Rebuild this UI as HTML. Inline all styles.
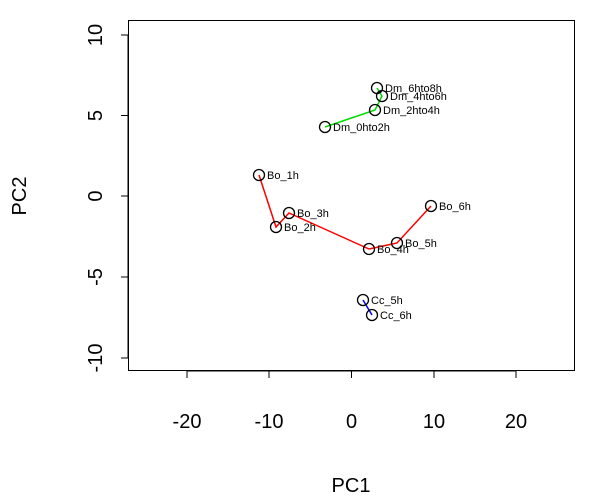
<html><body style="margin:0;background:#fff">
<svg width="608" height="498" xmlns="http://www.w3.org/2000/svg" font-family="Liberation Sans, sans-serif">
<rect x="128.5" y="20.5" width="446" height="350" fill="none" stroke="#000"/>
<g stroke="#000">
<line x1="187" y1="371" x2="516" y2="371"/>
<line x1="187" y1="371" x2="187" y2="378"/><line x1="269" y1="371" x2="269" y2="378"/><line x1="351.5" y1="371" x2="351.5" y2="378"/><line x1="434" y1="371" x2="434" y2="378"/><line x1="516" y1="371" x2="516" y2="378"/>
<line x1="128" y1="35" x2="128" y2="358"/>
<line x1="121" y1="35" x2="128" y2="35"/><line x1="121" y1="115.5" x2="128" y2="115.5"/><line x1="121" y1="196" x2="128" y2="196"/><line x1="121" y1="277" x2="128" y2="277"/><line x1="121" y1="358" x2="128" y2="358"/>
</g>
<g font-size="20" text-anchor="middle">
<text x="187" y="428">-20</text><text x="269" y="428">-10</text><text x="351.5" y="428">0</text><text x="434" y="428">10</text><text x="516" y="428">20</text>
<text x="351" y="492">PC1</text>
<g transform="rotate(-90)">
<text x="-35" y="102">10</text><text x="-115.5" y="102">5</text><text x="-196" y="102">0</text><text x="-277" y="102">-5</text><text x="-358" y="102">-10</text>
<text x="-196" y="26">PC2</text>
</g>
</g>
<polyline points="259,175 276,227 289,213 369,249 397,243 431,206" fill="none" stroke="#f00" stroke-width="1.5"/>
<polyline points="325,127 375,110 382,96 377,88" fill="none" stroke="#0d0" stroke-width="1.5"/>
<line x1="363" y1="300" x2="372" y2="315" stroke="#00f" stroke-width="1.5"/>
<g fill="none" stroke="#000" stroke-width="1.3">
<circle cx="259" cy="175" r="5.5"/><circle cx="276" cy="227" r="5.5"/><circle cx="289" cy="213" r="5.5"/><circle cx="369" cy="249" r="5.5"/><circle cx="397" cy="243" r="5.5"/><circle cx="431" cy="206" r="5.5"/>
<circle cx="325" cy="127" r="5.5"/><circle cx="375" cy="110" r="5.5"/><circle cx="382" cy="96" r="5.5"/><circle cx="377" cy="88" r="5.5"/>
<circle cx="363" cy="300" r="5.5"/><circle cx="372" cy="315" r="5.5"/>
</g>
<g font-size="11">
<text x="267" y="179">Bo_1h</text><text x="284" y="231">Bo_2h</text><text x="297" y="217">Bo_3h</text><text x="377" y="253">Bo_4h</text><text x="405" y="247">Bo_5h</text><text x="439" y="210">Bo_6h</text>
<text x="333" y="131">Dm_0hto2h</text><text x="383" y="114">Dm_2hto4h</text><text x="390" y="100">Dm_4hto6h</text><text x="385" y="92">Dm_6hto8h</text>
<text x="371" y="304">Cc_5h</text><text x="380" y="319">Cc_6h</text>
</g>
</svg>
</body></html>
